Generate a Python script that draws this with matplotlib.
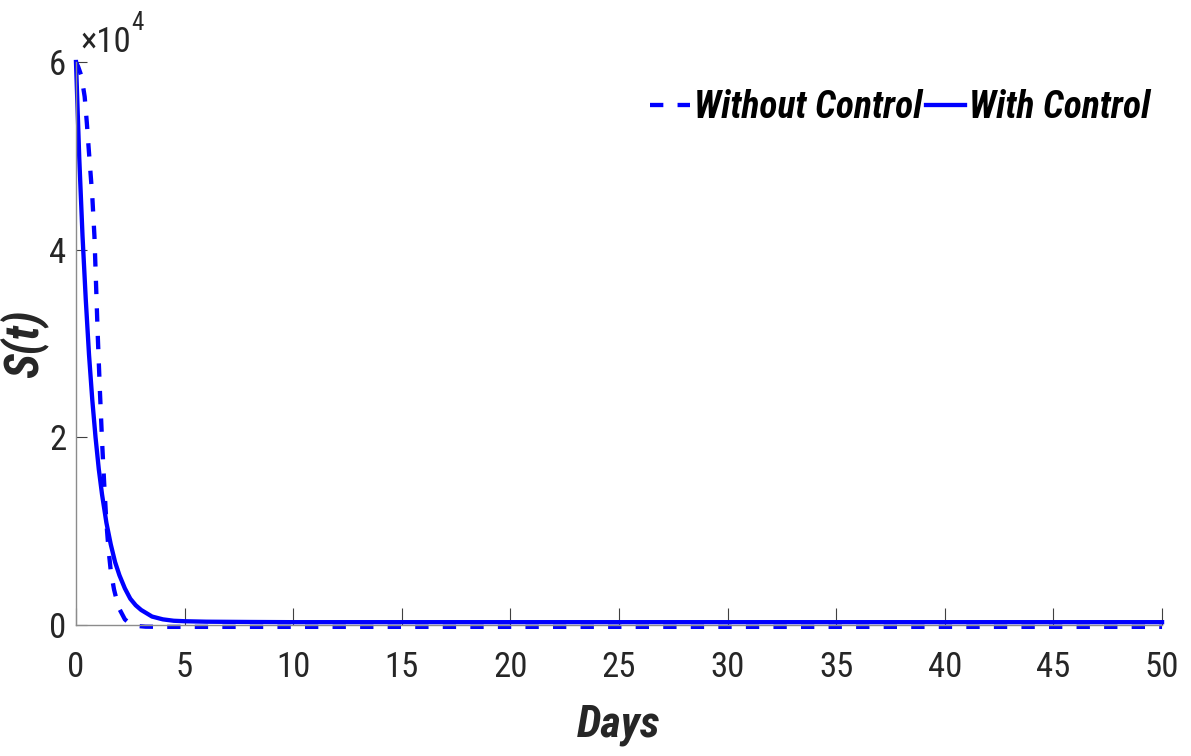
import matplotlib
matplotlib.use('Agg')
import matplotlib.pyplot as plt
from matplotlib.ticker import FixedLocator

plt.rcParams['font.family'] = ['Roboto Condensed', 'DejaVu Sans']

# values
days_without = [0, 0.1, 0.25, 0.4, 0.5, 0.6, 0.75, 0.85, 1.0, 1.1, 1.2, 1.3, 1.4, 1.5,
                1.6, 1.75, 1.9, 2.0, 2.25, 2.5, 2.8, 3.2, 4, 5, 10, 20, 30, 40, 50]
s_without = [60000, 59500, 58500, 56300, 53500, 50300, 45700, 41400, 31000, 25000,
             19600, 15000, 10900, 8000, 5800, 3800, 2400, 1700, 600, 100, -100,
             -180, -200, -200, -200, -200, -200, -200, -200]

days_with = [0, 0.15, 0.3, 0.45, 0.6, 0.75, 0.9, 1.05, 1.2, 1.4, 1.6, 1.8, 2.0, 2.25,
             2.5, 2.75, 3.0, 3.5, 4.0, 4.5, 5, 6, 8, 10, 20, 30, 40, 50]
s_with = [60000, 49800, 41500, 34700, 28800, 24000, 20000, 16600, 13900, 10900,
          8600, 6700, 5300, 3900, 2800, 2100, 1600, 900, 600, 450, 400, 350, 320,
          300, 300, 300, 300, 300]

x_ticks = [0, 5, 10, 15, 20, 25, 30, 35, 40, 45, 50]
y_ticks = [0, 20000, 40000, 60000]
y_tick_labels = ['0', '2', '4', '6']

fig = plt.figure(figsize=(11.91, 7.56), dpi=100)
ax = fig.add_axes([0.0638, 0.1733, 0.9119, 0.7447])

ax.plot(days_without, s_without, color='#0000ff', lw=3.1, ls=(0, (3.1, 3.3)),
        label='Without Control', clip_on=False)
ax.plot(days_with, s_with, color='#0000ff', lw=3.1, label='With Control', clip_on=False)

ax.set_xlim(0, 50)
ax.set_ylim(0, 60000)
ax.xaxis.set_major_locator(FixedLocator(x_ticks))
ax.set_yticks(y_ticks)
ax.set_yticklabels(y_tick_labels)

for side in ['top', 'right']:
    ax.spines[side].set_visible(False)
for side in ['left', 'bottom']:
    ax.spines[side].set_color('#8c8c8c')
    ax.spines[side].set_linewidth(1)

ax.tick_params(axis='x', direction='in', length=12, width=0.8, color='#404040',
               labelsize=25, labelcolor='#262626', pad=19)
ax.tick_params(axis='y', direction='in', length=8, width=0.8, color='#404040',
               labelsize=25, labelcolor='#262626', pad=7)

# exponent label above the y axis
ax.text(0.004, 1.0178, '×10', transform=ax.transAxes, fontsize=25,
        color='#262626', ha='left', va='baseline')
ax.text(0.051, 1.057, '4', transform=ax.transAxes, fontsize=18,
        color='#262626', ha='left', va='baseline')

ax.set_xlabel('Days', fontsize=32, fontweight='bold', fontstyle='italic',
              color='#262626', labelpad=14)
ax.set_ylabel('S(t)', fontsize=34, fontweight='bold', fontstyle='italic',
              color='#262626')
ax.yaxis.set_label_coords(-0.026, 0.5)

ax.legend(loc='upper right', bbox_to_anchor=(1.02, 1.012), ncol=2, frameon=False,
          handlelength=1.05, handletextpad=0.1, columnspacing=0.1,
          prop={'size': 27, 'weight': 'bold', 'style': 'italic'})

fig.savefig('out.png', dpi=100)
